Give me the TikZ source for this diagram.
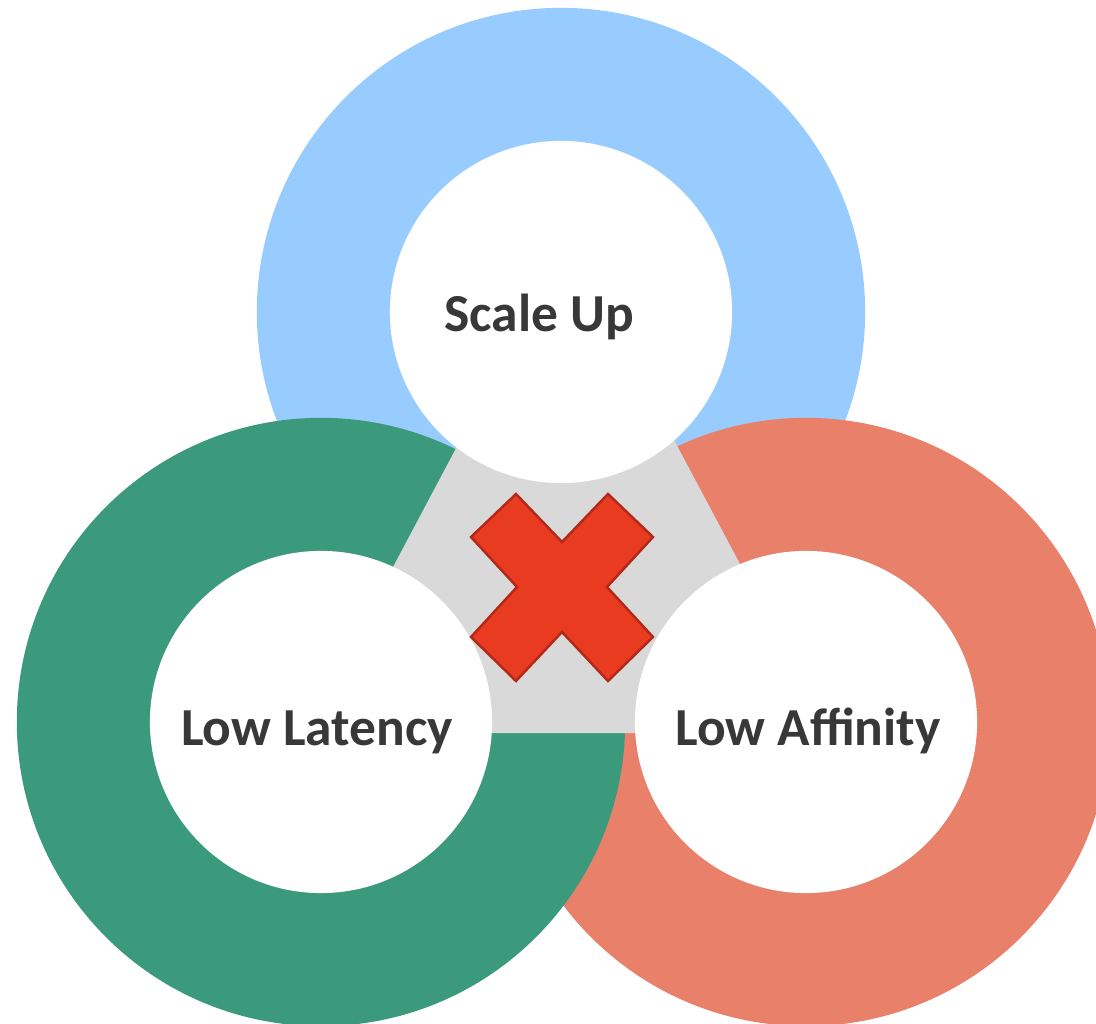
\documentclass[tikz,border=0pt]{standalone}
\usepackage{fontspec}
\setmainfont{Carlito}
\usepackage{tikz}
\usetikzlibrary{positioning}
\definecolor{ringup}{HTML}{99CCFE}
\definecolor{ringlat}{HTML}{3B9A7B}
\definecolor{ringaff}{HTML}{E8806A}
\definecolor{core}{HTML}{D9D9D9}
\definecolor{cross}{HTML}{E83B1F}
\definecolor{crossline}{HTML}{B2291A}
\definecolor{ink}{HTML}{383838}

\begin{document}
\begin{tikzpicture}[
    x=0.01cm, y=-0.01cm,
    lbl/.style={font=\fontsize{15.2}{17}\selectfont\bfseries, text=ink,
                anchor=base, inner sep=0pt},
    nope/.style={fill=cross, draw=crossline, line width=0.7pt, line join=miter}
]
\def\rOut{3.04cm}
\def\rIn{1.71cm}
\useasboundingbox[fill=white] (0,0) rectangle (1096,1024);
% ring centres
\coordinate (up)  at (561,312);
\coordinate (lat) at (321,722);
\coordinate (aff) at (806,722);
% coloured discs, back to front
\foreach \c/\col in {up/ringup, aff/ringaff, lat/ringlat}
  \fill[\col] (\c) circle (\rOut);
% grey wedge between the rings
\coordinate (tA) at (567,239);
\coordinate (tB) at (305,733);
\coordinate (tC) at (830,733);
\fill[core] (tA) -- (tB) -- (tC) -- cycle;
% holes
\foreach \c in {up,lat,aff}
  \fill[white] (\c) circle (\rIn);
% the cross
\draw[nope] (516,494) -- (562,542) -- (608,494) -- (653,537) -- (607,587)
  -- (653,637) -- (608,681) -- (562,632) -- (516,681) -- (471,637)
  -- (517,587) -- (471,537) -- cycle;
\node[lbl] (upl)  at (539,331) {Scale Up};
\node[lbl] (latl) at (317,745) {Low Latency};
\node[lbl] (affl) at (808,745) {Low Affinity};
\end{tikzpicture}
\end{document}
